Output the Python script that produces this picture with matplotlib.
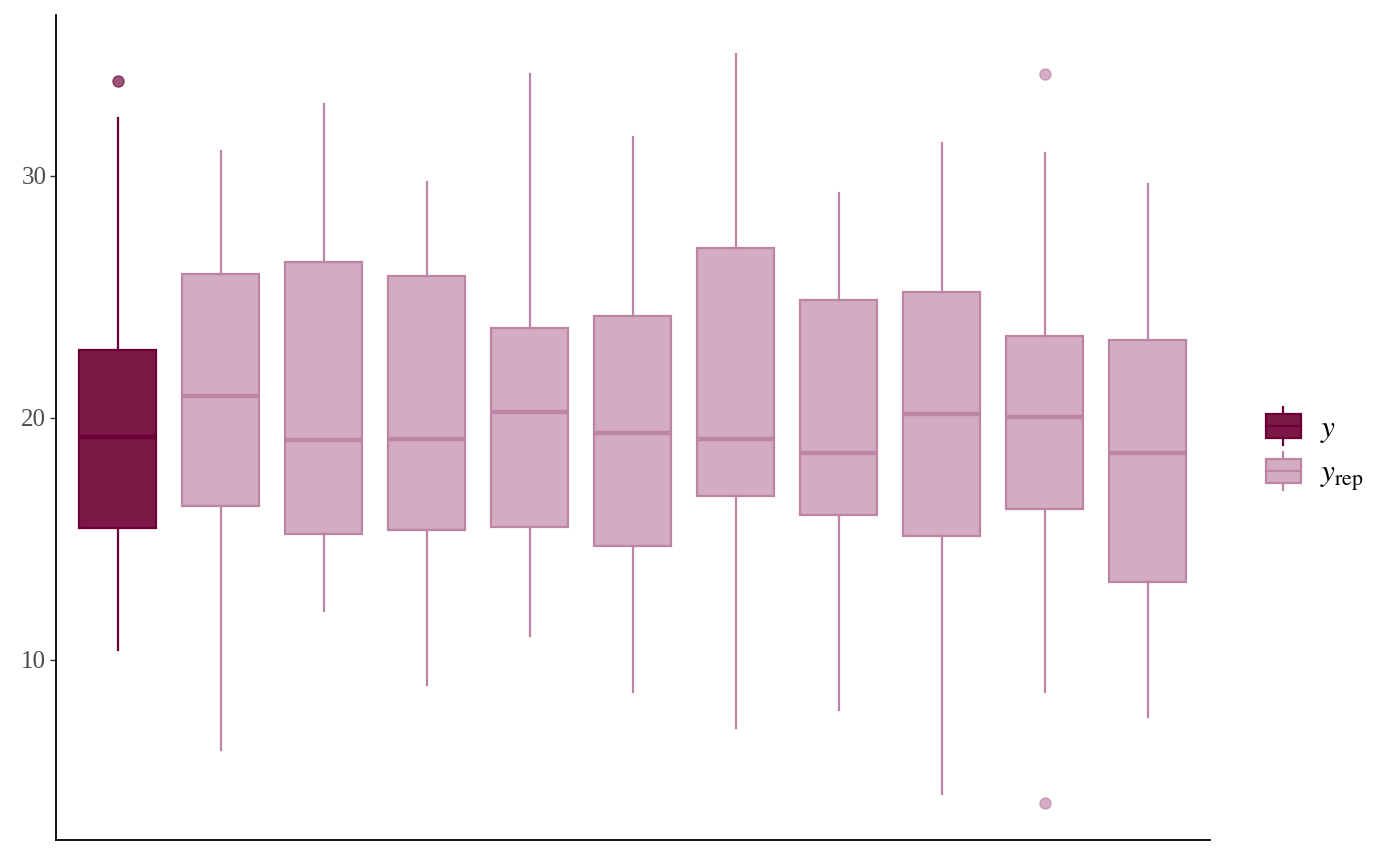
import matplotlib
matplotlib.use("Agg")
import matplotlib.pyplot as plt
import numpy as np
from matplotlib.patches import Rectangle
from matplotlib.lines import Line2D
from matplotlib.legend_handler import HandlerBase

plt.rcParams['font.family'] = ['Liberation Serif', 'DejaVu Serif']
plt.rcParams['mathtext.fontset'] = 'stix'

whislo = [10.41, 6.28, 12.02, 8.97, 10.99, 8.68, 7.19, 7.93, 4.46, 8.68, 7.64]
q1 = [15.45, 16.36, 15.21, 15.37, 15.50, 14.71, 16.78, 15.99, 15.12, 16.24, 13.22]
med = [19.21, 20.91, 19.09, 19.13, 20.25, 19.38, 19.13, 18.55, 20.17, 20.04, 18.55]
q3 = [22.81, 25.95, 26.45, 25.87, 23.72, 24.21, 27.02, 24.88, 25.21, 23.39, 23.22]
whishi = [32.40, 31.03, 32.98, 29.75, 34.21, 31.61, 35.04, 29.30, 31.36, 30.95, 29.67]
fliers = [[33.93], [], [], [], [], [], [], [], [], [34.21, 4.09], []]

dark_fill = '#7b1845'
dark_line = '#6b0036'
light_fill = '#d4acc2'
light_line = '#bd85a4'

stats = []
for i in range(len(med)):
    stats.append(dict(whislo=whislo[i], q1=q1[i], med=med[i], q3=q3[i],
                      whishi=whishi[i], fliers=fliers[i]))

fig = plt.figure(figsize=(14, 8.66), dpi=100)
ax = fig.add_axes([0.04, 0.030, 0.824, 0.953])

pos = np.arange(1, len(med) + 1)
for i, s in enumerate(stats):
    if i == 0:
        fc, ec = dark_fill, dark_line
    else:
        fc, ec = light_fill, light_line
    ax.bxp([s], positions=[pos[i]], widths=0.75, patch_artist=True, showcaps=False,
           boxprops=dict(facecolor=fc, edgecolor=ec, linewidth=1.6),
           medianprops=dict(color=ec, linewidth=3.2, solid_capstyle='butt'),
           whiskerprops=dict(color=ec, linewidth=1.6),
           flierprops=dict(marker='o', markerfacecolor=ec, markeredgecolor=ec,
                           markersize=8, alpha=2/3))

ax.set_ylim(2.56, 36.65)
ax.set_xlim(0.4, len(med) + 0.6)

ax.set_xticks([])
ax.set_yticks([10, 20, 30])
ax.tick_params(axis='y', labelsize=18, labelcolor='#4d4d4d', color='#333333',
               length=4, width=1, pad=3)
for sp in ['top', 'right']:
    ax.spines[sp].set_visible(False)
ax.spines['left'].set_linewidth(1.3)
ax.spines['bottom'].set_linewidth(1.3)


class BoxHandler(HandlerBase):
    def __init__(self, fc, ec):
        super().__init__()
        self.fc = fc
        self.ec = ec

    def create_artists(self, legend, orig_handle, xdescent, ydescent, width, height,
                       fontsize, trans):
        cx = width / 2 - xdescent
        rect = Rectangle((-xdescent, -ydescent), width, height, facecolor=self.fc,
                         edgecolor=self.ec, linewidth=1.6, transform=trans)
        midy = height / 2 - ydescent
        medline = Line2D([-xdescent, width - xdescent], [midy, midy], color=self.ec,
                         linewidth=1.6, transform=trans)
        wtop = Line2D([cx, cx], [height - ydescent, height - ydescent + 5], color=self.ec,
                      linewidth=1.6, transform=trans)
        wbot = Line2D([cx, cx], [-ydescent - 5, -ydescent], color=self.ec,
                      linewidth=1.6, transform=trans)
        return [wtop, wbot, rect, medline]


h1 = Rectangle((0, 0), 1, 1)
h2 = Rectangle((0, 0), 1, 1)
leg = fig.legend([h1, h2], ['$y$', r'$y_{\mathrm{rep}}$'],
                 handler_map={h1: BoxHandler(dark_fill, dark_line),
                              h2: BoxHandler(light_fill, light_line)},
                 loc='center left', bbox_to_anchor=(0.884, 0.476), frameon=False,
                 fontsize=22.5, handlelength=1.12, handleheight=0.8,
                 labelspacing=0.45, handletextpad=0.62)

fig.savefig('out.png', dpi=100)
